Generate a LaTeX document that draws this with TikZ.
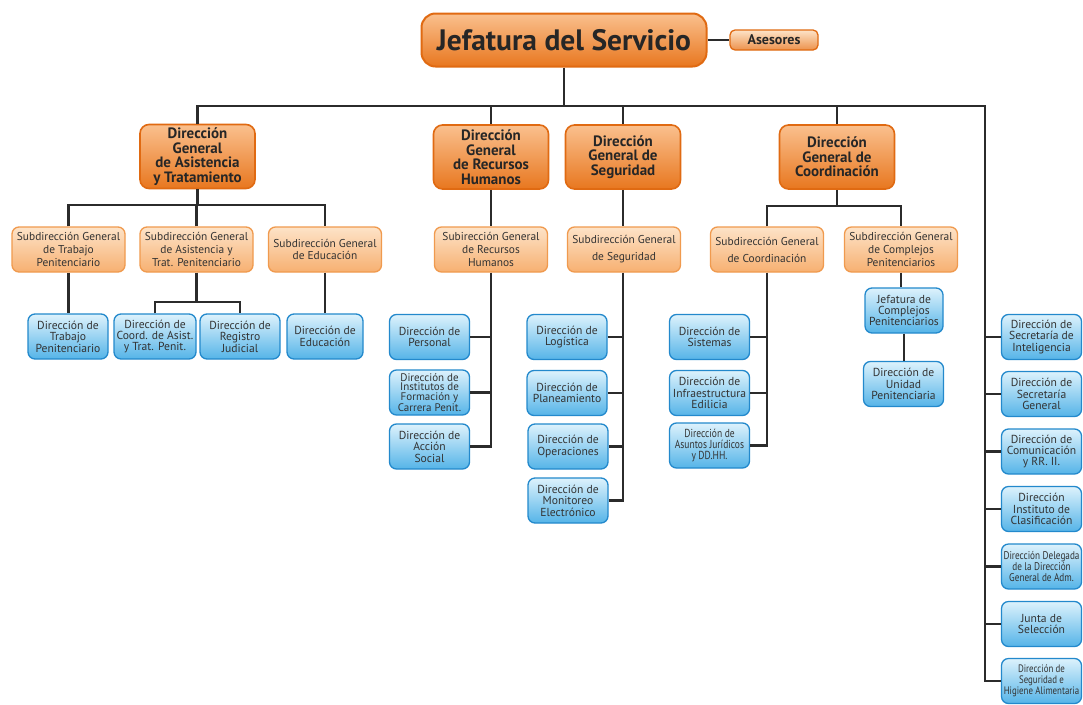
\documentclass[tikz,border=0pt]{standalone}
\usepackage{fontspec}
\setmainfont{PT Sans}
\newfontfamily\condfont[FakeStretch=0.82]{PT Sans}
\definecolor{orT}{HTML}{FAC08E}
\definecolor{orB}{HTML}{E8771F}
\definecolor{orD}{HTML}{E06A12}
\definecolor{lorT}{HTML}{FDE3C8}
\definecolor{lorB}{HTML}{F7B071}
\definecolor{lorD}{HTML}{F09A4E}
\definecolor{blT}{HTML}{DDF2FC}
\definecolor{blB}{HTML}{55B4E8}
\definecolor{blD}{HTML}{2389CC}
\definecolor{lineC}{HTML}{2B2B2B}
\tikzset{
  box/.style={align=center, inner sep=1pt, shading=axis, shading angle=0},
  lvA/.style={box, draw=orD, line width=1.6pt, rounded corners=9pt, top color=orT, bottom color=orB,
     font=\fontsize{15}{14.5}\selectfont\bfseries, minimum width=115, minimum height=64, text=black!85},
  lvB/.style={box, draw=lorD, line width=1.3pt, rounded corners=7pt, top color=lorT, bottom color=lorB,
     font=\fontsize{11.4}{12.8}\selectfont, minimum width=113, minimum height=45, text=black!80},
  lvC/.style={box, draw=blD, line width=1.3pt, rounded corners=7pt, top color=blT, bottom color=blB,
     font=\fontsize{11.6}{11.4}\selectfont, minimum width=80, minimum height=45, text=black!80},
  conn/.style={draw=lineC, line width=2.1pt},
}
\begin{document}
\begin{tikzpicture}[x=1pt,y=-1pt]
\useasboundingbox[fill=white] (0,0) rectangle (1083,704);
% bus levels
\coordinate (busR) at (985,106);
\coordinate (yA) at (0,205);
\coordinate (yB) at (0,302);
\coordinate (yC) at (0,206);

% top
\node[box, draw=orD, line width=2pt, rounded corners=14pt, top color=orT, bottom color=orB,
  minimum width=285, minimum height=53, font=\fontsize{29.5}{29.5}\selectfont\bfseries, text=black!85] (top) at (564,40) {Jefatura del Servicio};
\node[box, draw=orD, line width=1.3pt, rounded corners=5pt, top color=lorT, bottom color=orB!80!white,
  minimum width=88, minimum height=20, font=\fontsize{14}{14}\selectfont\bfseries, text=black!85] (ases) at (774,40) {Asesores};

% level A
\node[lvA] (dgat) at (197.5,156.5) {Dirección\\General\\de Asistencia\\y Tratamiento};
\node[lvA] (dgrh) at (491,157) {Dirección\\General\\de Recursos\\Humanos};
\node[lvA] (dgs) at (623,157) {Dirección\\General de\\Seguridad};
\node[lvA] (dgc) at (837,157) {Dirección\\General de\\Coordinación};

% level B
\node[lvB] (sgtp) at (68.5,249.5) {Subdirección General\\de Trabajo\\Penitenciario};
\node[lvB] (sgat) at (196.5,249.5) {Subdirección General\\de Asistencia y\\Trat. Penitenciario};
\node[lvB] (sged) at (325,249.5) {Subdirección General\\de Educación};
\node[lvB] (sgrh) at (491,249.5) {Subirección General\\de Recursos\\Humanos};
\node[lvB, font=\fontsize{11.4}{17}\selectfont] (sgs) at (624,249.5) {Subdirección General\\de Seguridad};
\node[lvB, font=\fontsize{11.4}{17}\selectfont] (sgc) at (767,249.5) {Subdirección General\\de Coordinación};
\node[lvB] (sgcp) at (901,249.5) {Subdirección General\\de Complejos\\Penitenciarios};

% level C
\node[lvC] (dtp) at (68,336.5) {Dirección de\\Trabajo\\Penitenciario};
\node[lvC, minimum width=82] (dcaa) at (155,336.5) {Dirección de\\Coord. de Asist.\\y Trat. Penit.};
\node[lvC] (drj) at (240,336.5) {Dirección de\\Registro\\Judicial};
\node[lvC, minimum width=76] (ded) at (325,336.5) {Dirección de\\Educación};

\node[lvC] (per) at (429.5,337) {Dirección de\\Personal};
\node[lvC, font=\fontsize{11}{9.8}\selectfont] (inst) at (429.5,392.5) {Dirección de\\Institutos de\\Formación y\\Carrera Penit.};
\node[lvC] (acc) at (429.5,446.5) {Dirección de\\Acción\\Social};

\node[lvC] (log) at (567,337) {Dirección de\\Logística};
\node[lvC] (pla) at (567,393) {Dirección de\\Planeamiento};
\node[lvC] (ope) at (568,446.5) {Dirección de\\Operaciones};
\node[lvC] (mon) at (568,500.5) {Dirección de\\Monitoreo\\Electrónico};

\node[lvC] (sis) at (709.5,337) {Dirección de\\Sistemas};
\node[lvC] (inf) at (709.5,393) {Dirección de\\Infraestructura\\Edilicia};
\node[lvC, font=\fontsize{11.6}{11}\selectfont\condfont] (aj) at (709.5,445.5) {Dirección de\\Asuntos Jurídicos\\y DD.HH.};

\node[lvC, minimum width=78] (jcp) at (904,310.5) {Jefatura de\\Complejos\\Penitenciarios};
\node[lvC] (dup) at (903.5,384) {Dirección de\\Unidad\\Penitenciaria};

\node[lvC] (r1) at (1041.5,337) {Dirección de\\Secretaría de\\Inteligencia};
\node[lvC] (r2) at (1041.5,394) {Dirección de\\Secretaría\\General};
\node[lvC] (r3) at (1041.5,451.5) {Dirección de\\Comunicación\\y RR. II.};
\node[lvC] (r4) at (1041.5,509) {Dirección\\Instituto de\\Clasificación};
\node[lvC, font=\fontsize{11.2}{11.4}\selectfont\condfont] (r5) at (1041.5,566.5) {Dirección Delegada\\de la Dirección\\General de Adm.};
\node[lvC, font=\fontsize{10.8}{11}\selectfont\condfont] (r7) at (1041.5,681) {Dirección de\\Seguridad e\\Higiene Alimentaria};
\node[lvC] (r6) at (1041.5,624) {Junta de\\Selección};

% connectors
\draw[conn] (top.east) -- (ases.west);
\draw[conn] (top.south) -- (top.south |- busR);
\draw[conn] (dgat.north) |- (busR) |- (r7.west);
\draw[conn] (dgrh.north) -- (dgrh.north |- busR);
\draw[conn] (dgs.north) -- (dgs.north |- busR);
\draw[conn] (dgc.north) -- (dgc.north |- busR);
\foreach \n in {r1,r2,r3,r4,r5,r6} \draw[conn] (\n.west) -- (\n.west -| busR);

% DG asistencia
\draw[conn] (dgat.south) -- (dgat.south |- yA);
\draw[conn] (sgtp.north) |- (sged.north |- yA) -- (sged.north);
\draw[conn] (sgat.north) -- (sgat.north |- yA);
\draw[conn] (sgtp.south) -- (sgtp.south |- dtp.north);
\draw[conn] (sged.south) -- (ded.north);
\draw[conn] (sgat.south) -- (sgat.south |- yB);
\draw[conn] (dcaa.north) |- (drj.north |- yB) -- (drj.north);

% DG RRHH
\draw[conn] (dgrh.south) -- (sgrh.north);
\draw[conn] (sgrh.south) |- (acc.east);
\draw[conn] (per.east) -- (per.east -| sgrh.south);
\draw[conn] (inst.east) -- (inst.east -| sgrh.south);

% DG Seguridad
\draw[conn] (dgs.south) -- (dgs.south |- sgs.north);
\draw[conn] (sgs.south -| dgs.south) |- (mon.east);
\draw[conn] (log.east) -- (log.east -| dgs.south);
\draw[conn] (pla.east) -- (pla.east -| dgs.south);
\draw[conn] (ope.east) -- (ope.east -| dgs.south);

% DG Coordinacion
\draw[conn] (dgc.south) -- (dgc.south |- yC);
\draw[conn] (sgc.north) |- (sgcp.north |- yC) -- (sgcp.north);
\draw[conn] (sgc.south) |- (aj.east);
\draw[conn] (sis.east) -- (sis.east -| sgc.south);
\draw[conn] (inf.east) -- (inf.east -| sgc.south);
\draw[conn] (sgcp.south) -- (sgcp.south |- jcp.north);
\draw[conn] (jcp.south) -- (jcp.south |- dup.north);
\end{tikzpicture}
\end{document}
